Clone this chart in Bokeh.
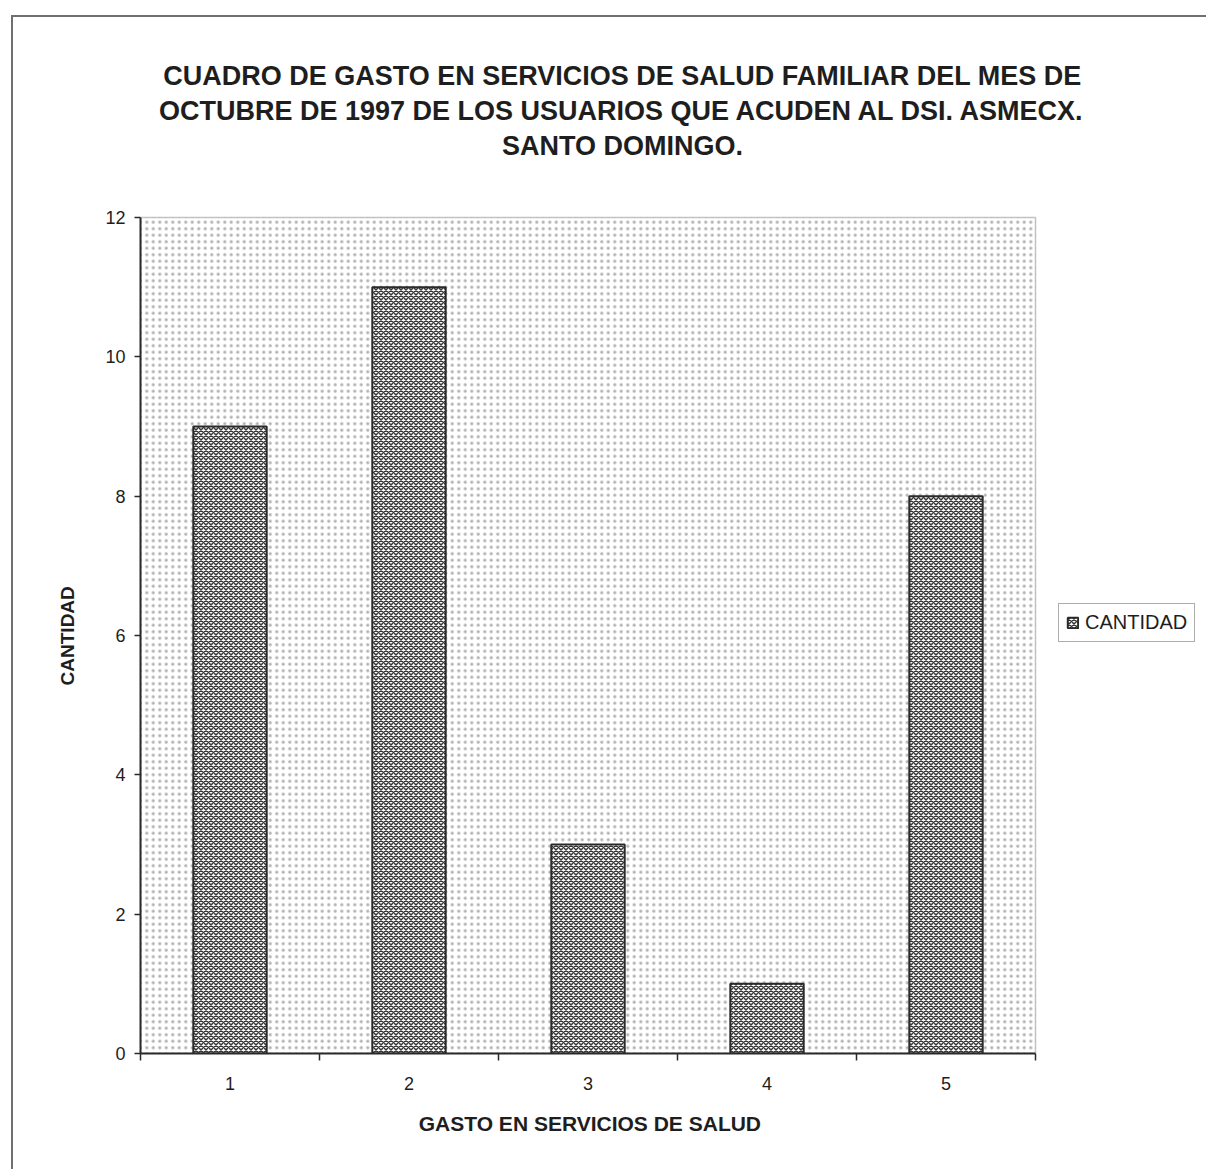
from bokeh.plotting import figure
from bokeh.models import (FixedTicker, BoxAnnotation, Label, Legend, LegendItem,
                          ColumnDataSource, Range1d)
from bokeh.embed import file_html
from bokeh.resources import INLINE

# Gasto en servicios de salud (categoria) y cantidad de usuarios
gasto = [1, 2, 3, 4, 5]
cantidad = [9, 11, 3, 1, 8]
y_ticks = [0, 2, 4, 6, 8, 10, 12]
x_bounds = [0.5, 1.5, 2.5, 3.5, 4.5, 5.5]

title_lines = [
    "CUADRO DE GASTO EN SERVICIOS DE SALUD FAMILIAR DEL MES DE",
    "OCTUBRE DE 1997 DE LOS USUARIOS QUE ACUDEN AL DSI. ASMECX.",
    "SANTO DOMINGO.",
]
x_title = "GASTO EN SERVICIOS DE SALUD"
y_title = "CANTIDAD"

FONT = "Liberation Sans"
INK = "#1e1e1e"
NBSP = "\u00a0"

# plotting area spans x 0.5..5.5 and y 0..12; the frame is extended to the
# right and upward so the title block and the legend live inside it
PX_X = 179.0      # pixels per category
PX_Y = 836.0 / 12  # pixels per unit of CANTIDAD
x_lo, x_hi = x_bounds[0], x_bounds[-1] + 173 / PX_X
y_lo, y_hi = y_ticks[0], y_ticks[-1] + 200 / PX_Y

source = ColumnDataSource(data=dict(gasto=gasto, cantidad=cantidad))

p = figure(width=1195, height=1154,
           x_range=Range1d(x_lo, x_hi), y_range=Range1d(y_lo, y_hi),
           output_backend="svg", toolbar_location=None,
           min_border_left=127, min_border_right=0,
           min_border_top=0, min_border_bottom=118)
p.margin = (17, 0, 0, 13)
p.styles = {"box-shadow": "-2px -2px 0px 0px #707070"}

p.background_fill_color = "white"
p.border_fill_color = "white"
p.outline_line_color = None
p.xgrid.visible = False
p.ygrid.visible = False

# stippled plot area with its border
p.add_layout(BoxAnnotation(left=x_bounds[0], right=x_bounds[-1],
                           bottom=y_ticks[0], top=y_ticks[-1],
                           fill_color="white", fill_alpha=1.0,
                           hatch_pattern=".", hatch_scale=6.5, hatch_weight=0.9,
                           hatch_color="#b2b2b2",
                           line_color="#3a3a3a", line_width=1.5,
                           level="underlay"))

bars = p.vbar(x="gasto", top="cantidad", width=0.41, bottom=0, source=source,
              fill_color="white", line_color="#2a2a2a", line_width=2,
              hatch_pattern="x", hatch_scale=5, hatch_weight=1.5,
              hatch_color="#383838")

# axes
p.xaxis.ticker = FixedTicker(ticks=gasto, minor_ticks=x_bounds)
p.yaxis.ticker = FixedTicker(ticks=y_ticks)
p.xaxis.bounds = (x_bounds[0], x_bounds[-1])
p.yaxis.bounds = (y_ticks[0], y_ticks[-1])
for ax in (p.xaxis[0], p.yaxis[0]):
    ax.axis_line_color = "#2a2a2a"
    ax.axis_line_width = 2
    ax.major_label_text_font = FONT
    ax.major_label_text_font_size = "18px"
    ax.major_label_text_color = INK
    ax.axis_label_text_font = FONT
    ax.axis_label_text_font_style = "bold"
    ax.axis_label_text_color = INK

p.xaxis.major_tick_out = 0
p.xaxis.major_tick_in = 0
p.xaxis.minor_tick_out = 7
p.xaxis.minor_tick_in = 0
p.xaxis.minor_tick_line_color = "#2a2a2a"
p.xaxis.minor_tick_line_width = 1.5
p.xaxis.major_label_standoff = 16
# axis labels are centred on the whole frame; trailing no-break spaces
# bring the visible words back over the plotting area
p.xaxis.axis_label = x_title + NBSP * 29
p.xaxis.axis_label_text_font_size = "21px"
p.xaxis.axis_label_standoff = 19

p.yaxis.major_tick_out = 6
p.yaxis.major_tick_in = 0
p.yaxis.major_tick_line_color = "#2a2a2a"
p.yaxis.major_tick_line_width = 1.5
p.yaxis.minor_tick_line_color = None
p.yaxis.major_label_standoff = 9
p.yaxis.axis_label = y_title + NBSP * 38
p.yaxis.axis_label_text_font_size = "19px"
p.yaxis.axis_label_standoff = 24

# three-line title above the plotting area
for i, line in enumerate(title_lines):
    p.add_layout(Label(x=482, y=978 - 35 * i, x_units="screen", y_units="screen",
                       text=line, text_align="center", text_baseline="middle",
                       text_font=FONT, text_font_size="27px",
                       text_font_style="bold", text_color=INK))

legend = Legend(items=[LegendItem(label="CANTIDAD", renderers=[bars])],
                location=(918, 411))
legend.label_text_font = FONT
legend.label_text_font_size = "20px"
legend.label_text_color = INK
legend.glyph_width = 13
legend.glyph_height = 13
legend.label_standoff = 6
legend.padding = 7
legend.margin = 0
legend.border_line_color = "#5a5a5a"
legend.border_line_width = 1.5
legend.background_fill_color = "white"
p.add_layout(legend, "center")

open("out.html", "w").write(file_html(p, INLINE))
